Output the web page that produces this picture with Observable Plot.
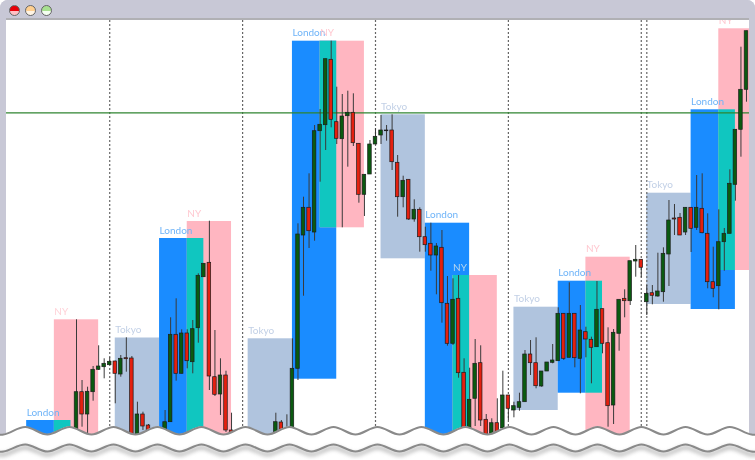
<!DOCTYPE html>
<html><head><meta charset="utf-8">
<script src="https://cdn.jsdelivr.net/npm/d3@7"></script>
<script src="https://cdn.jsdelivr.net/npm/@observablehq/plot@0.6"></script>
<style>
html,body{margin:0;padding:0;background:#fff;width:755px;height:460px;overflow:hidden}
#stage{position:relative;width:755px;height:460px;overflow:hidden}
#stage>*{position:absolute}
#frame{left:0;top:0;width:755px;height:450px;background:#c8c8d6;border-radius:8px 8px 0 0}
#paper{left:6px;top:19px;width:743px;height:430px;background:#fff}
#titlebar{left:0;top:0;width:755px;height:18px;background:#c8c8d6;border-radius:8px 8px 0 0}
#band{left:6px;top:18px;width:743px;height:2px;background:#b0b0b4}
#sideL{left:0;top:18px;width:6px;height:430px;background:#c8c8d6}
#sideR{left:749px;top:18px;width:6px;height:430px;background:#c8c8d6}
.light{top:4.5px;width:9px;height:9px;border-radius:50%;border:1.2px solid #666;box-sizing:content-box}
#chart,#torn{left:0;top:0}
#chart svg,#torn svg{display:block;background:transparent}
#chart{filter:blur(.3px)}
</style></head><body>
<div id="stage">
<div id="frame"></div><div id="paper"></div>
<div id="chart"></div>
<div id="titlebar"></div><div id="band"></div><div id="sideL"></div><div id="sideR"></div>
<div class="light" style="left:9px;background:linear-gradient(#e8000a 55%,#ffc0c4 55%)"></div>
<div class="light" style="left:25px;background:linear-gradient(#ffcf90 55%,#fff4e4 55%)"></div>
<div class="light" style="left:41px;background:linear-gradient(#a8e090 55%,#f4fff0 55%)"></div>
<div id="torn"></div>
</div>
<script>
const wickTop=[319.3,380,386.7,366,345.3,358.3,357.3,360.7,355,337.3,356,401.7,411.7,424,438,438,410,317.3,298.3,329.3,329.3,320,273.3,263,220.7,330,358.3,370.7,412.7,438,438,438,438,438,438,438,412.7,420,414.3,338.3,223.3,196.7,173.3,125,109,58.7,40.7,86.7,94,90.7,93.3,143.3,174.3,140,128.3,115,125,114.3,155,175.7,179.3,199.3,207.3,226.7,222.7,243,230,276,278.3,275,358.3,367.7,339,345.3,414,418.3,398.3,370.7,395,401.7,392.7,350,340,337.3,371,362,344,307.3,313.3,282.3,313.3,305,326.7,336.7,281,308.7,327.3,329,299.3,289.3,260.7,245,259.3,285,285,252.7,247.3,200,204,213,207,207.3,175,173.3,213.3,246.7,209.3,228,169.3,129.3,46.7,30.7];
const bodyTop=[391.7,391.7,391.3,369.3,366,363.3,361.3,361,358.3,357.7,358,414,414,425,440,440,421.7,334.3,334.3,333,333,328.7,275.3,263.3,262.3,376.7,375,375,430,440,440,440,440,440,440,440,421.7,422,436,368.3,234,207.3,207.3,130.7,124.3,58.7,59.3,121.7,116,112.3,112.3,143.3,174.3,144,136.3,130,130,130,162.3,180.3,179.3,209.3,209.3,236.7,243.3,246,247.3,303.3,299.3,298.3,372.3,399.3,363.3,362.7,419.3,422.7,422.7,395,395,405.7,401.7,354,354,362.7,371,362,360,313.3,313.3,313.3,313.3,330,331.7,339.3,309.3,308.7,342.7,332.3,299.3,298.3,260.7,259.3,259.3,293.3,292.7,291,253.3,220,218,217.3,207.3,207.3,207.3,208.3,233.3,281.7,241.7,233.3,183.3,129.3,89.3,30.7];
const bodyBottom=[445,414,414,391.7,369.3,366.7,364.7,373.3,374,358.7,445,445,426,445,445,445,445,421.7,373.3,373.3,360.7,361.7,327.7,276.7,376,394.3,394,430,445,445,445,445,445,445,445,445,445,445,445,445,368.3,235,230.7,232,130.7,124.7,119.3,138.3,138.7,115.7,142.7,194.3,194.3,174,144,135,130.7,161.7,196.7,196.7,219,219,236.7,244.7,255,255,302.7,343.3,343.3,372.7,445,445,398.3,420,445,445,445,428,408.3,410,407.3,401.7,362.7,385.7,386,371,362.3,360.7,358.3,357.3,357.7,358.3,339,347.3,346.7,343.3,405.7,405,333.3,300.7,300.7,261,267.3,301.7,295.3,296,291.7,254,219,235,232,228.3,227.3,232.7,281.7,288.3,285.7,241.7,233.3,184.3,129.3,89.3];
const wickBottom=[445,426.7,445,400.7,370,378.3,365,403.3,376.7,371.7,445,445,430,445,445,445,445,422,380.7,373.5,368.3,373.3,342.7,277,390,396,415,432,445,445,445,445,445,445,445,445,445,445,445,445,380,295.7,248,240.7,181.7,150,127.3,144,227.3,166.7,146,202.7,216,174,144,144,140.7,170,216.7,207.3,220,221.7,251.7,251.7,270.7,294.3,322.7,345.7,345,377.7,445,445,426,426,445,445,445,428,420,417.3,410.7,401.7,375,388.3,386.7,371,363.3,360.7,360,357.3,367.3,393.3,357.3,383.3,346.7,353.3,426.7,424,350.7,317.3,305,276.7,277.3,315,304.3,296.7,301.7,286,235,235,235,252,230,233.3,288.3,297.3,309.3,270.7,233.3,200.7,156.7,101.7];
const tones=[
 "G","R","G","G","G","G","G","R","G","R","R","G","R","R","R","G","G","G","R","G",
 "R","G","G","G","R","R","G","R","R","R","R","R","R","R","R","R","G","R","G","G",
 "G","G","R","G","G","G","R","R","G","G","R","R","G","G","G","G","G","R","R","G",
 "R","G","R","R","R","G","R","R","G","R","R","G","G","R","R","G","R","G","R","G",
 "G","G","R","R","G","G","G","G","R","G","R","G","R","R","G","R","R","G","G","R",
 "G","G","R","G","R","G","G","G","R","R","G","R","G","R","R","R","G","G","G","G",
 "G","G"];

// Session boxes, in bars and levels
const sessionBars=8;
const tokyoStart=[7,31,55,79,103];
const tokyoTop=[337.5,338.3,114.3,306.7,192.7];
const tokyoBottom=[445,445,258.3,410,304];
const londonStart=[-9,15,39,63,87,111];
const londonTop=[420,238,40.7,222.7,280.7,109.3];
const londonBottom=[445,445,378.7,445,392.7,309];
const nyStart=[-4,20,44,68,92,116];
const nyTop=[319.3,221,40.7,275,256.7,28.3];
const nyBottom=[445,445,227.3,445,445,270];
const nyInk=["#ffd2d8","#ffc8d0","#ffc8d0","#b8d6ee","#ffc8d0","#ffc8d0"];
const separators=[6,30,54,78,102,103];
const priceLine=[112.4];

// Torn paper edge, read in page pixels
const tornX=[-19,3,25,47,69,91,113,135,157,179,201,223,245,267,289,311,333,355,377,399,421,443,465,487,509,531,553,575,597,619,641,663,685,707,729,751,773];
const tornY=[426.5,434,426.5,434,426.5,434,426.5,434,426.5,434,426.5,434,426.5,434,426.5,434,426.5,434,426.5,434,426.5,434,426.5,434,426.5,434,426.5,434,426.5,434,426.5,434,426.5,434,426.5,434,426.5];
const tornY2=[444,451,444,451,444,451,444,451,444,451,444,451,444,451,444,451,444,451,444,451,444,451,444,451,444,451,444,451,444,451,444,451,444,451,444,451,444];

const bars=wickTop.map((t,i)=>({i,wickTop:t,bodyTop:bodyTop[i],bodyBottom:bodyBottom[i],wickBottom:wickBottom[i],tone:tones[i]}));
const box=(s,t,b)=>s.map((start,k)=>({start,end:start+sessionBars,top:t[k],bottom:b[k]}));
const tokyo=box(tokyoStart,tokyoTop,tokyoBottom);
const london=box(londonStart,londonTop,londonBottom);
const ny=box(nyStart,nyTop,nyBottom);
const overlap=ny.map((n,k)=>({start:n.start,end:london[k].end,top:Math.max(n.top,london[k].top),bottom:Math.min(n.bottom,london[k].bottom)}));

const rect=(data,fill)=>Plot.rect(data,{x1:"start",x2:"end",y1:"top",y2:"bottom",fill});
const label=(data,text,fill)=>Plot.text(data,{x:"start",y:"top",dy:-8,text:()=>text,fill,textAnchor:"start",fontFamily:"Lato",fontSize:10});

const chart=Plot.plot({
  width:755,height:460,margin:0,
  x:{domain:[-13.726,122.63],range:[0,755],axis:null},
  y:{domain:[0,460],range:[0,460],axis:null},
  marks:[
    rect(tokyo,"#b0c4de"),
    rect(london,"#1a8cff"),
    rect(ny,"#ffb6c1"),
    rect(overlap,"#10c6c0"),
    Plot.ruleX(separators,{stroke:"#666",strokeWidth:1.2,strokeDasharray:"2 2"}),
    Plot.ruleY(priceLine,{stroke:"#2f8430",strokeWidth:1.2}),
    label(tokyo,"Tokyo","#c2d0e6"),
    label(london,"London","#6fb4f8"),
    Plot.text(ny,{x:"start",y:"top",dy:-8,text:()=>"NY",fill:(d,k)=>nyInk[k],textAnchor:"start",fontFamily:"Lato",fontSize:10}),
    Plot.ruleX(bars,{x:"i",y1:"wickTop",y2:"wickBottom",stroke:"#3a3a3a",strokeWidth:1}),
    Plot.rect(bars,{x1:d=>d.i-0.32,x2:d=>d.i+0.32,y1:"bodyTop",y2:"bodyBottom",fill:d=>d.tone==="G"?"#0a5a10":"#e4200f",stroke:"#1c1c1c",strokeWidth:0.7})
  ]
});
document.getElementById("chart").append(chart);

const torn=tornX.map((x,k)=>({x,y:tornY[k],y2:tornY2[k]}));
const edge=Plot.plot({
  width:755,height:460,margin:0,
  x:{domain:[0,755],range:[0,755],axis:null},
  y:{domain:[0,460],range:[0,460],axis:null},
  marks:[
    Plot.area(torn,{x1:"x",y1:"y",y2:()=>460,fill:"#fff",curve:"natural"}),
    Plot.line(torn,{x:"x",y:"y",stroke:"#8a8a8a",strokeWidth:2,curve:"natural"}),
    Plot.line(torn,{x:"x",y:d=>d.y2+3,stroke:"#aaa",strokeWidth:3,curve:"natural",imageFilter:"blur(2px)"}),
    Plot.line(torn,{x:"x",y:"y2",stroke:"#8a8a8a",strokeWidth:2,curve:"natural"})
  ]
});
document.getElementById("torn").append(edge);
</script>
</body></html>
